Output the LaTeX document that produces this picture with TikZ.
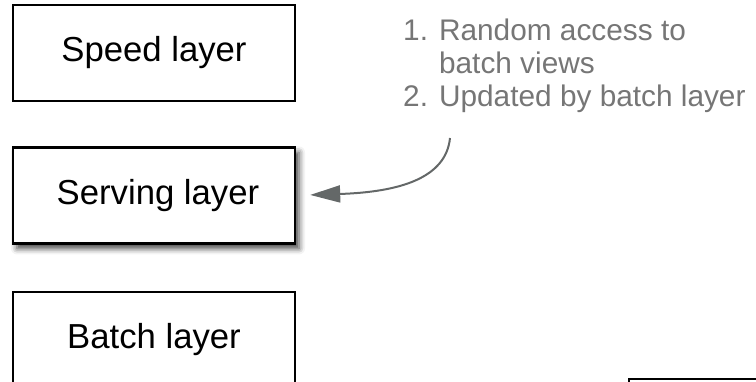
\documentclass[tikz,border=0pt]{standalone}
\usepackage{fontspec}
\setmainfont{Liberation Sans}
\usetikzlibrary{positioning, arrows.meta, shadows.blur}
\definecolor{notegray}{RGB}{118,118,118}
\definecolor{arrowgray}{RGB}{100,104,104}

\begin{document}
\begin{tikzpicture}[x=1pt, y=-1pt,
  layerbox/.style={draw=black, line width=2.4pt, fill=white, minimum width=282pt,
    minimum height=96pt, inner sep=0pt, font=\fontsize{34.7}{40}\selectfont},
  notetext/.style={text=notegray, align=left, inner sep=0pt,
    font=\fontsize{29.8}{33}\selectfont},
  notearrow/.style={draw=arrowgray, line width=2pt,
    -{Triangle[length=30pt, width=17pt]}}]
  \useasboundingbox (0,0) rectangle (756,382);
  \clip (0,0) rectangle (756,382);
  % Layers
  \node[layerbox] (speed) at (154,53) {Speed layer};
  \node[layerbox, below=44pt of speed,
    blur shadow={shadow xshift=4pt, shadow yshift=-5pt, shadow blur radius=6pt,
      shadow opacity=75}]
    (serving) {\hspace{8pt}Serving layer};
  \node[layerbox, below=46pt of serving] (batch) {Batch layer};
  % Box cut off at the corner
  \node[layerbox, anchor=north west] (corner) at (628,378) {};
  % Note
  \node[notetext, anchor=north west] (note) at (403,19)
    {1. Random access to\\\phantom{1. }batch views\\2. Updated by batch layer};
  \coordinate (notestart) at (450,138);
  \draw[notearrow, shorten >=14pt] (notestart)
    .. controls (446,178) and (400,192) .. (serving.east);
\end{tikzpicture}
\end{document}
